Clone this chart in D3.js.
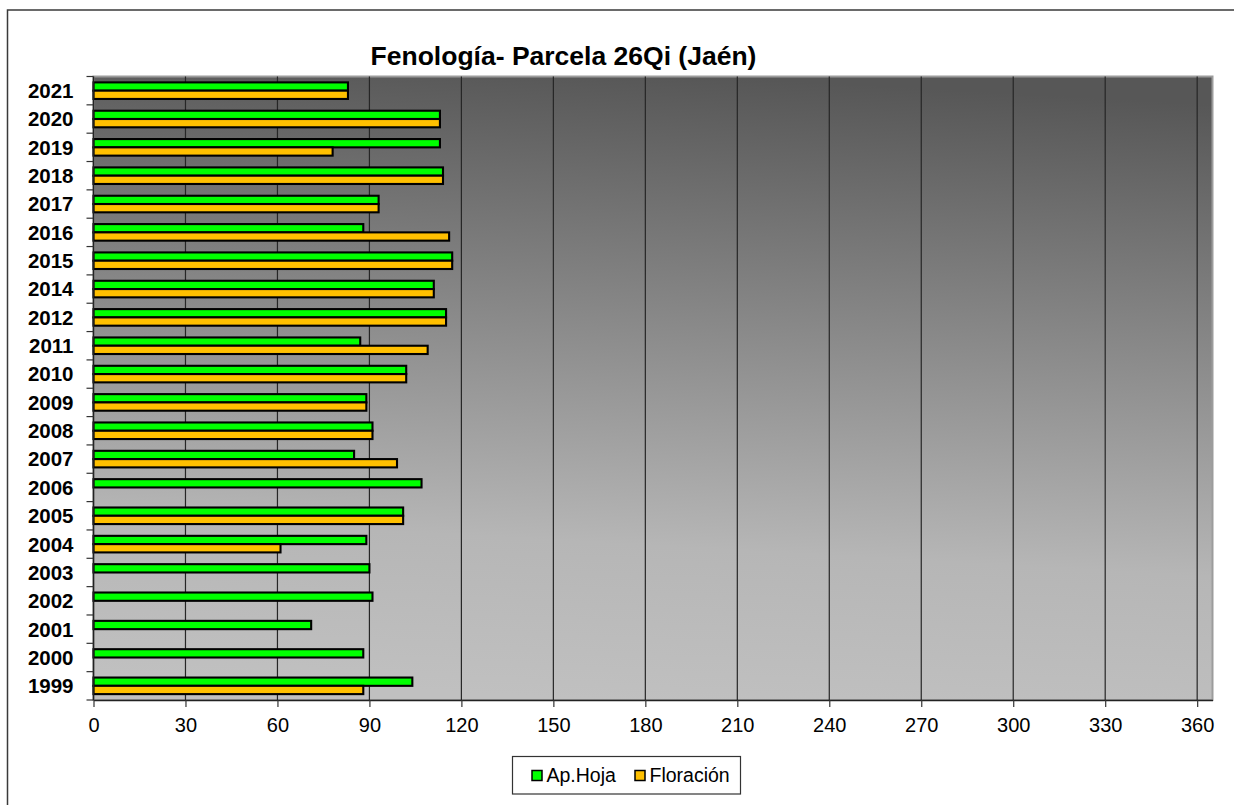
<!DOCTYPE html>
<html>
<head>
<meta charset="utf-8">
<script src="https://cdn.jsdelivr.net/npm/d3@7"></script>
<style>
  html, body { margin: 0; padding: 0; background: #fff; }
  svg { display: block; font-family: "Liberation Sans", Arial, sans-serif; }
</style>
</head>
<body>
<svg id="chart" width="1234" height="805"></svg>
<script>
// ---- data ----
const years = ["2021","2020","2019","2018","2017","2016","2015","2014","2012","2011","2010","2009","2008","2007","2006","2005","2004","2003","2002","2001","2000","1999"];
const apHoja =   [83, 113, 113, 114, 93, 88, 117, 111, 115, 87, 102, 89, 91, 85, 107, 101, 89, 90, 91, 71, 88, 104];
const floracion = [83, 113, 78, 114, 93, 116, 117, 111, 115, 109, 102, 89, 91, 99, null, 101, 61, null, null, null, null, 88];
const seriesNames = ["Ap.Hoja", "Floración"];
const seriesColors = ["#00ff00", "#ffc000"];
const xTicks = [0, 30, 60, 90, 120, 150, 180, 210, 240, 270, 300, 330, 360];
const titleText = "Fenología- Parcela 26Qi (Jaén)";

const rows = years.map((y, i) => ({ year: y, values: [apHoja[i], floracion[i]] }));

// ---- layout ----
const svg = d3.select("#chart");
const W = 1234, H = 805;
const plot = { left: 93.5, right: 1212.5, top: 76.5, bottom: 700 };

// outer chart border
svg.append("rect")
  .attr("x", 7.5).attr("y", 10).attr("width", W + 20).attr("height", H + 20)
  .attr("fill", "#fff").attr("stroke", "#3a3a3a").attr("stroke-width", 1.5);

// gradient
const defs = svg.append("defs");
const grad = defs.append("linearGradient").attr("id", "bg")
  .attr("x1", "0.45").attr("y1", "1").attr("x2", "0.55").attr("y2", "0");
grad.append("stop").attr("offset", "0").attr("stop-color", "#c0c0c0");
grad.append("stop").attr("offset", "0.25").attr("stop-color", "#b6b6b6");
grad.append("stop").attr("offset", "1").attr("stop-color", "#575757");

const x = d3.scaleLinear().domain([0, 365]).range([plot.left, plot.right]);
const y = d3.scaleBand().domain(years).range([plot.top, plot.bottom]).paddingInner(0).paddingOuter(0);
const ySub = d3.scaleBand().domain([0, 1]).range([0, y.bandwidth()]).paddingInner(0).paddingOuter(0.71);

// plot area background + light frame
svg.append("rect")
  .attr("x", plot.left).attr("y", plot.top)
  .attr("width", plot.right - plot.left).attr("height", plot.bottom - plot.top)
  .attr("fill", "url(#bg)").attr("stroke", "#9c9c9c").attr("stroke-width", 2);

// gridlines
svg.append("g").selectAll("line")
  .data(xTicks.filter(t => t > 0))
  .join("line")
  .attr("x1", d => x(d)).attr("x2", d => x(d))
  .attr("y1", plot.top).attr("y2", plot.bottom)
  .attr("stroke", "#262626").attr("stroke-width", 1.2);

// bars
const groups = svg.append("g").selectAll("g")
  .data(rows).join("g")
  .attr("transform", d => `translate(0,${y(d.year)})`);

groups.selectAll("rect")
  .data(d => d.values.map((v, i) => ({ v, i })).filter(e => e.v != null))
  .join("rect")
  .attr("x", x(0))
  .attr("y", e => ySub(e.i))
  .attr("width", e => x(e.v) - x(0))
  .attr("height", ySub.bandwidth())
  .attr("fill", e => seriesColors[e.i])
  .attr("stroke", "#000").attr("stroke-width", 2.1);

// x axis
const xAxis = d3.axisBottom(x).tickValues(xTicks).tickSize(7).tickSizeOuter(0).tickPadding(11);
const gx = svg.append("g").attr("transform", `translate(0,${plot.bottom})`).call(xAxis);
gx.select(".domain").attr("stroke", "#222").attr("stroke-width", 1.5);
gx.selectAll(".tick line").attr("stroke", "#333").attr("stroke-width", 1.2);
gx.selectAll("text").attr("font-size", 20).attr("fill", "#000")
  .attr("font-family", "'Liberation Sans', Arial, sans-serif");

// y axis line + boundary ticks
const boundaries = years.map(yr => y(yr)).concat([plot.bottom]);
svg.append("line")
  .attr("x1", plot.left).attr("x2", plot.left)
  .attr("y1", plot.top).attr("y2", plot.bottom)
  .attr("stroke", "#222").attr("stroke-width", 1.5);
svg.append("g").selectAll("line")
  .data(boundaries).join("line")
  .attr("x1", plot.left - 7).attr("x2", plot.left)
  .attr("y1", d => d).attr("y2", d => d)
  .attr("stroke", "#333").attr("stroke-width", 1.2);

// y labels
svg.append("g").selectAll("text")
  .data(years).join("text")
  .attr("x", 73.5)
  .attr("y", d => y(d) + y.bandwidth() / 2)
  .attr("dy", "0.36em")
  .attr("text-anchor", "end")
  .attr("font-size", 20.5).attr("font-weight", "bold").attr("fill", "#000")
  .text(d => d);

// title
svg.append("text")
  .attr("x", 563.5).attr("y", 65)
  .attr("text-anchor", "middle")
  .attr("font-size", 26.5).attr("font-weight", "bold").attr("fill", "#000")
  .text(titleText);

// legend
const lg = svg.append("g");
lg.append("rect").attr("x", 512.5).attr("y", 756.5).attr("width", 228).attr("height", 37.5)
  .attr("fill", "#fff").attr("stroke", "#333").attr("stroke-width", 1.2);
const legendX = [531.5, 634.5];
seriesNames.forEach((name, i) => {
  lg.append("rect").attr("x", legendX[i] + 0.5).attr("y", 770.5).attr("width", 10).attr("height", 10)
    .attr("fill", seriesColors[i]).attr("stroke", "#000").attr("stroke-width", 1.5);
  lg.append("text").attr("x", legendX[i] + 15).attr("y", 782)
    .attr("font-size", 19.5).attr("fill", "#000").text(name);
});
</script>
</body>
</html>
